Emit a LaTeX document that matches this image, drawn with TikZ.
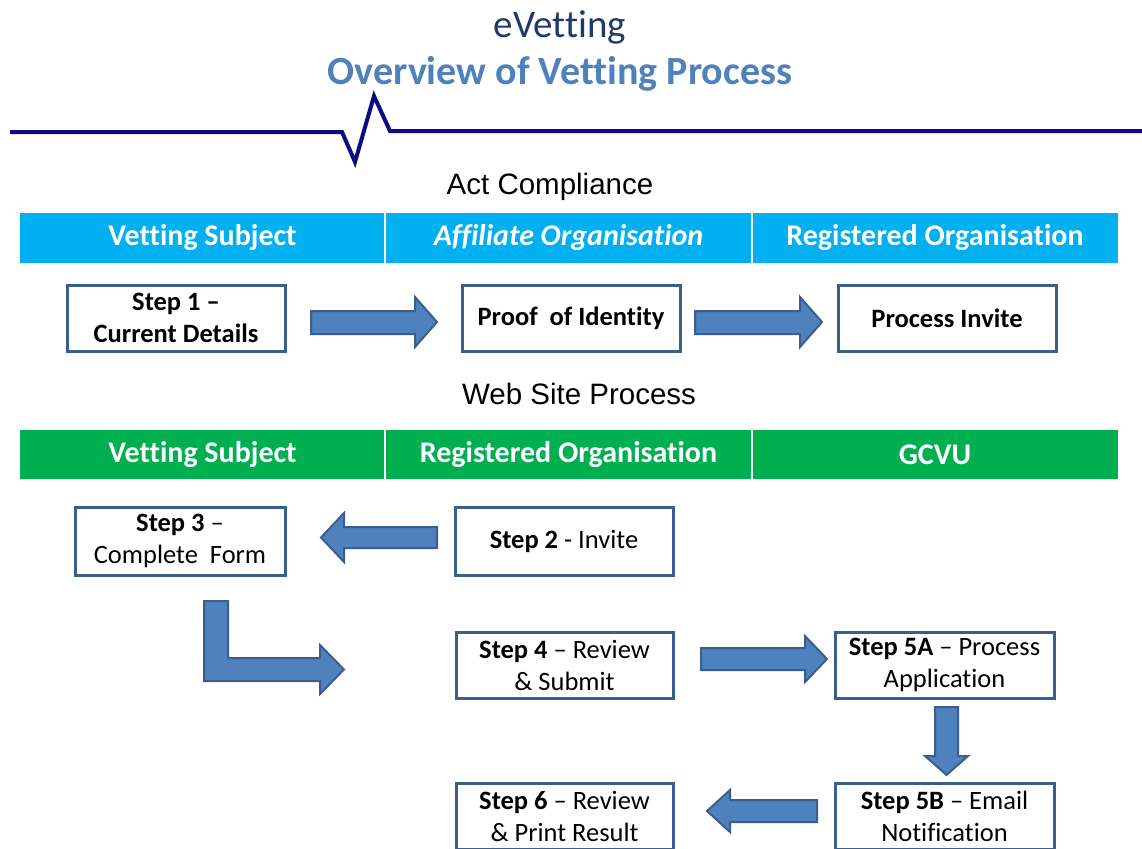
\documentclass[tikz,border=0pt]{standalone}
\usepackage{fontspec}
\setmainfont{Carlito}[Ligatures=NoCommon]
\newfontfamily\arialf{Liberation Sans}
\definecolor{titledark}{HTML}{1F3A6A}
\definecolor{titlelight}{HTML}{4F81BD}
\definecolor{navyline}{HTML}{0C0C80}
\definecolor{hdrcyan}{HTML}{00B0F0}
\definecolor{hdrgreen}{HTML}{00B050}
\definecolor{boxedge}{HTML}{3A5F8E}
\definecolor{arrowfill}{HTML}{4F81BD}
\begin{document}
\begin{tikzpicture}[x=1pt,y=-1pt,
  stepbox/.style={draw=boxedge, line width=3pt, fill=white, align=center,
    minimum width=218pt, minimum height=66pt, inner sep=0pt,
    font=\fontsize{26.5}{32}\selectfont},
  hdrtext/.style={text=white, font=\fontsize{30}{34}\selectfont\bfseries},
  blockarrow/.style={fill=arrowfill, draw=boxedge, line width=2pt, line join=miter},
  divider/.style={draw=white, line width=2pt},
  sectitle/.style={font=\arialf\fontsize{29.5}{34}\selectfont, text=black}
]
\clip (0,0) rectangle (1142,848);
\fill[white] (0,0) rectangle (1142,848);

% titles
\node[text=titledark, font=\fontsize{39}{44}\selectfont] (t1) at (560,27) {eVetting};
\node[text=titlelight, font=\fontsize{40}{45}\selectfont\bfseries] (t2) at (560,74) {Overview of Vetting Process};

% pulse line
\draw[navyline, line width=4pt, line join=miter]
  (10,132) -- (342,132) -- (355,162) -- (374,96) -- (390,131) -- (1142,131);

% Act compliance
\node[sectitle] (act) at (550,187) {Act Compliance};
\fill[hdrcyan] (20,213) rectangle (1118,263);
\draw[divider] (385,213) -- (385,263);
\draw[divider] (752,213) -- (752,263);
\node[hdrtext] (h1) at (202.5,238) {Vetting Subject};
\node[hdrtext] (h2) at (568.5,238) {\itshape Affiliate Organisation};
\node[hdrtext] (h3) at (935,238) {Registered Organisation};

\node[stepbox, font=\fontsize{26.5}{32}\selectfont\bfseries] (s1) at (176,318) {Step 1 --\\Current Details};
\node[stepbox, font=\fontsize{26.5}{32}\selectfont\bfseries] (poi) at (571,318) {Proof\ \ of Identity};
\node[stepbox, font=\fontsize{26.5}{32}\selectfont\bfseries] (pinv) at (947,318) {Process Invite};

\draw[blockarrow] (311,311) -- (415,311) -- (415,297) -- (437,322) -- (415,347) -- (415,334) -- (311,334) -- cycle;
\draw[blockarrow] (695,311) -- (800,311) -- (800,297) -- (822,322) -- (800,347) -- (800,334) -- (695,334) -- cycle;

% Web site process
\node[sectitle] (web) at (579,394) {Web Site Process};
\fill[hdrgreen] (20,430) rectangle (1118,479);
\draw[divider] (385,430) -- (385,479);
\draw[divider] (752,430) -- (752,479);
\node[hdrtext] (g1) at (202.5,454.5) {Vetting Subject};
\node[hdrtext] (g2) at (568.5,454.5) {Registered Organisation};
\node[hdrtext] (g3) at (935,454.5) {GCVU};

\node[stepbox, minimum width=210pt, minimum height=68pt] (s3) at (180,541) {\textbf{Step 3} --\\Complete\ \ Form};
\node[stepbox, minimum height=68pt] (s2) at (564,541) {\textbf{Step 2} - Invite};
\node[stepbox, minimum width=217pt] (s4) at (564.5,665) {\textbf{Step 4} -- Review\\\& Submit};
\node[stepbox, minimum width=219pt] (s5a) at (944.5,665) {\textbf{Step 5A} -- Process\\Application};
\node[stepbox, minimum width=219pt, minimum height=66pt] (s5b) at (944.5,816) {\textbf{Step 5B} -- Email\\Notification};
\node[stepbox, minimum width=217pt, minimum height=66pt] (s6) at (564.5,816) {\textbf{Step 6} -- Review\\\& Print Result};

% block arrows row 2
\draw[blockarrow] (437,527) -- (344,527) -- (344,513) -- (321,537.5) -- (344,562) -- (344,548) -- (437,548) -- cycle;
\draw[blockarrow] (204,601) -- (228,601) -- (228,658) -- (320,658) -- (320,645) -- (344,669.5) -- (320,694) -- (320,681) -- (204,681) -- cycle;
\draw[blockarrow] (701,648) -- (805,648) -- (805,636) -- (827,659) -- (805,682) -- (805,670) -- (701,670) -- cycle;
\draw[blockarrow] (935,707) -- (958,707) -- (958,756) -- (968,756) -- (946.5,775) -- (925,756) -- (935,756) -- cycle;
\draw[blockarrow] (817,800) -- (730,800) -- (730,790) -- (707,811) -- (730,832) -- (730,822) -- (817,822) -- cycle;
\end{tikzpicture}
\end{document}
